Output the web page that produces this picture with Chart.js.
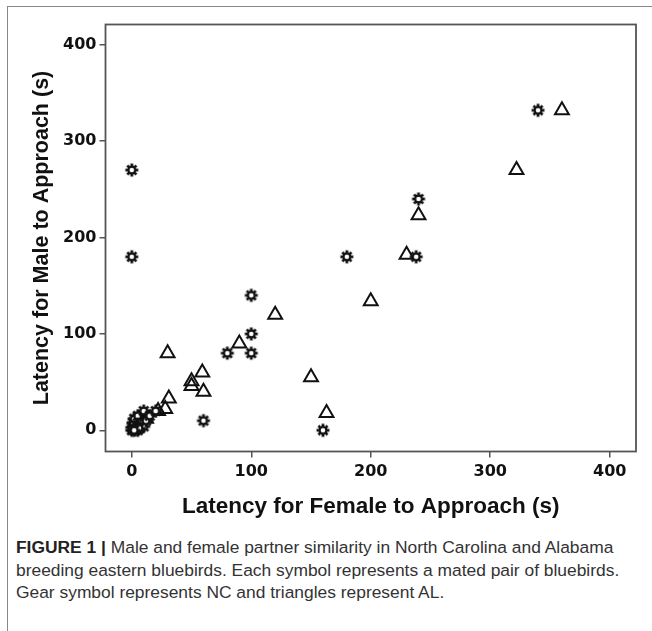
<!DOCTYPE html>
<html>
<head>
<meta charset="utf-8">
<script src="https://cdn.jsdelivr.net/npm/chart.js@4.4.1/dist/chart.umd.min.js"></script>
<style>
  body { margin: 0; background: #fff; width: 652px; height: 631px; overflow: hidden; position: relative; font-family: 'Liberation Sans', Arial, sans-serif; }
  #frame { position: absolute; left: 7px; top: 6px; width: 700px; height: 700px; border-left: 1.5px solid #888; border-top: 1.5px solid #888; }
  #wrap { position: absolute; left: 0; top: 0; width: 652px; height: 520px; }
  #caption { position: absolute; left: 16px; top: 536px; width: 636px; font-size: 17.4px; line-height: 22.5px; color: #333; white-space: nowrap; }
  #caption b { color: #222; }
</style>
</head>
<body>
<div id="frame"></div>
<div id="wrap"><canvas id="bluebirdChart"></canvas></div>
<div id="caption"><b>FIGURE 1 |</b> Male and female partner similarity in North Carolina and Alabama<br>breeding eastern bluebirds. Each symbol represents a mated pair of bluebirds.<br>Gear symbol represents NC and triangles represent AL.</div>
<script>
// NC pairs (gear symbol): female latency, male latency (s)
const ncFemale = [340, 0, 240, 0, 180, 238, 100, 100, 80, 100, 60, 160,
  0, 0, 1, 2, 3, 4, 5, 5, 7, 8, 10, 10, 12, 15, 20, 6, 2];
const ncMale = [332, 270, 240, 180, 180, 180, 140, 100, 80, 80, 10, 0,
  0, 3, 8, 12, 1, 5, 0, 15, 3, 8, 20, 4, 10, 15, 20, 2, 0];

// AL pairs (triangles)
const alFemale = [360, 322, 240, 230, 200, 120, 90, 30, 150, 59, 50, 50, 60, 31, 28, 163, 22, 12];
const alMale = [332, 270, 223, 182, 134, 120, 90, 80, 55, 60, 51, 46, 40, 33, 22, 18, 20, 12];

const tickValues = [0, 100, 200, 300, 400];

// gear marker drawn once on a small canvas
function makeGear() {
  const c = document.createElement('canvas');
  c.width = 16; c.height = 16;
  const g = c.getContext('2d');
  const cx = 8, cy = 8, teeth = 8;
  g.beginPath();
  for (let k = 0; k < teeth; k++) {
    const a = k * 2 * Math.PI / teeth;
    const w = 0.22;
    const step = Math.PI / teeth;
    g.lineTo(cx + 4.6 * Math.cos(a - step + 0.1), cy + 4.6 * Math.sin(a - step + 0.1));
    g.lineTo(cx + 6.6 * Math.cos(a - w), cy + 6.6 * Math.sin(a - w));
    g.lineTo(cx + 6.6 * Math.cos(a + w), cy + 6.6 * Math.sin(a + w));
    g.lineTo(cx + 4.6 * Math.cos(a + step - 0.1), cy + 4.6 * Math.sin(a + step - 0.1));
  }
  g.closePath();
  g.fillStyle = '#111';
  g.fill();
  g.beginPath();
  g.arc(cx, cy, 2.3, 0, 2 * Math.PI);
  g.fillStyle = '#fff';
  g.fill();
  return c;
}

const toPoints = (xs, ys) => xs.map((x, i) => ({ x: x, y: ys[i] }));

// full box around the plot area
const frameBox = {
  id: 'frameBox',
  beforeDatasetsDraw(chart) {
    const { ctx, chartArea } = chart;
    ctx.save();
    ctx.strokeStyle = '#555';
    ctx.lineWidth = 1.8;
    ctx.strokeRect(chartArea.left, chartArea.top, chartArea.right - chartArea.left, chartArea.bottom - chartArea.top);
    ctx.restore();
  }
};

const tickFont = { family: "'DejaVu Sans', sans-serif", size: 16, weight: 'bold' };
const xTitleFont = { family: "'Liberation Sans', Arial, sans-serif", size: 22.5, weight: 'bold' };
const yTitleFont = { family: "'Liberation Sans', Arial, sans-serif", size: 21.5, weight: 'bold' };

new Chart(document.getElementById('bluebirdChart'), {
  type: 'scatter',
  data: {
    datasets: [
      {
        label: 'NC',
        data: toPoints(ncFemale, ncMale),
        pointStyle: makeGear(),
        pointRadius: 7,
        pointHoverRadius: 7
      },
      {
        label: 'AL',
        data: toPoints(alFemale, alMale),
        pointStyle: 'triangle',
        pointRadius: 8,
        pointHoverRadius: 8,
        borderColor: '#111',
        borderWidth: 2,
        backgroundColor: 'rgba(0,0,0,0)'
      }
    ]
  },
  options: {
    responsive: true,
    maintainAspectRatio: false,
    animation: false,
    layout: { padding: { left: 0, top: 24.5, right: 16, bottom: 0 } },
    plugins: { legend: { display: false }, tooltip: { enabled: false } },
    scales: {
      x: {
        type: 'linear',
        min: -22,
        max: 422,
        afterBuildTicks: (s) => { s.ticks = tickValues.map(v => ({ value: v })); },
        afterFit: (s) => { s.height = 68.5; },
        ticks: { color: '#111', font: tickFont, padding: 5, maxRotation: 0 },
        grid: { display: true, drawOnChartArea: false, drawTicks: true, tickLength: 6, color: '#555', lineWidth: 1.5 },
        border: { display: false },
        title: { display: true, text: 'Latency for Female to Approach (s)', color: '#111', font: xTitleFont, padding: 0 }
      },
      y: {
        type: 'linear',
        min: -22,
        max: 421,
        afterBuildTicks: (s) => { s.ticks = tickValues.map(v => ({ value: v })); },
        afterFit: (s) => { s.width = 105.5; },
        ticks: { color: '#111', font: tickFont, padding: 3 },
        grid: { display: true, drawOnChartArea: false, drawTicks: true, tickLength: 6, color: '#555', lineWidth: 1.5 },
        border: { display: false },
        title: { display: true, text: 'Latency for Male to Approach (s)', color: '#111', font: yTitleFont, padding: { top: 29, bottom: 0 } }
      }
    }
  },
  plugins: [frameBox]
});
</script>
</body>
</html>
